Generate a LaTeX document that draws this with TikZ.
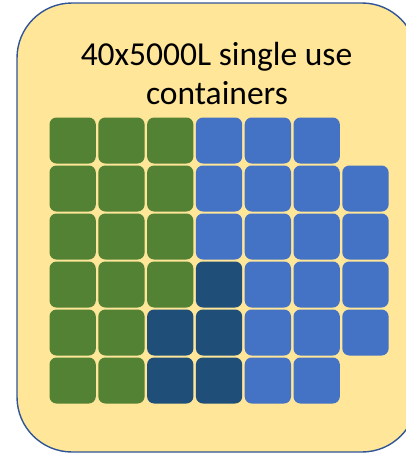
\documentclass[tikz,border=0pt]{standalone}
\usepackage{fontspec}
\setmainfont{Carlito}
\definecolor{bgyel}{HTML}{FFE699}
\definecolor{frame}{HTML}{2F5597}
\definecolor{cgreen}{HTML}{548235}
\definecolor{cblue}{HTML}{4472C4}
\definecolor{cdark}{HTML}{1F4E79}
\tikzset{
  cell/.style={rectangle, rounded corners=7pt, minimum width=46.3pt, minimum height=46pt, inner sep=0pt, draw=none},
  G/.style={cell, fill=cgreen},
  B/.style={cell, fill=cblue},
  D/.style={cell, fill=cdark},
  outerbox/.style={rectangle, rounded corners=55pt, fill=bgyel, draw=frame, line width=1.4pt, minimum width=400pt, minimum height=449pt, inner sep=0pt},
  title/.style={align=center, font=\fontsize{33.5}{38.5}\selectfont, inner sep=0pt}
}
\begin{document}
\begin{tikzpicture}[x=1pt,y=-1pt]
\useasboundingbox (0,0) rectangle (406,458);
\clip (0,0) rectangle (406,458);
\node[outerbox] (box) at (217,227.5) {};
\node[title, anchor=base] (t1) at (216.5,65.5) {40x5000L single use};
\node[title, anchor=base] (t2) at (217,104) {containers};
\foreach \r/\row in {0/{G,G,G,B,B,B},1/{G,G,G,B,B,B,B},2/{G,G,G,B,B,B,B},3/{G,G,G,D,B,B,B},4/{G,G,D,D,B,B,B},5/{G,G,D,D,B,B}}{
  \foreach \s [count=\c from 0] in \row {
    \node[\s, anchor=north west] (c\r\c) at ({49.3+48.8*\c},{117.3+48*\r}) {};
  }
}
\end{tikzpicture}
\end{document}
